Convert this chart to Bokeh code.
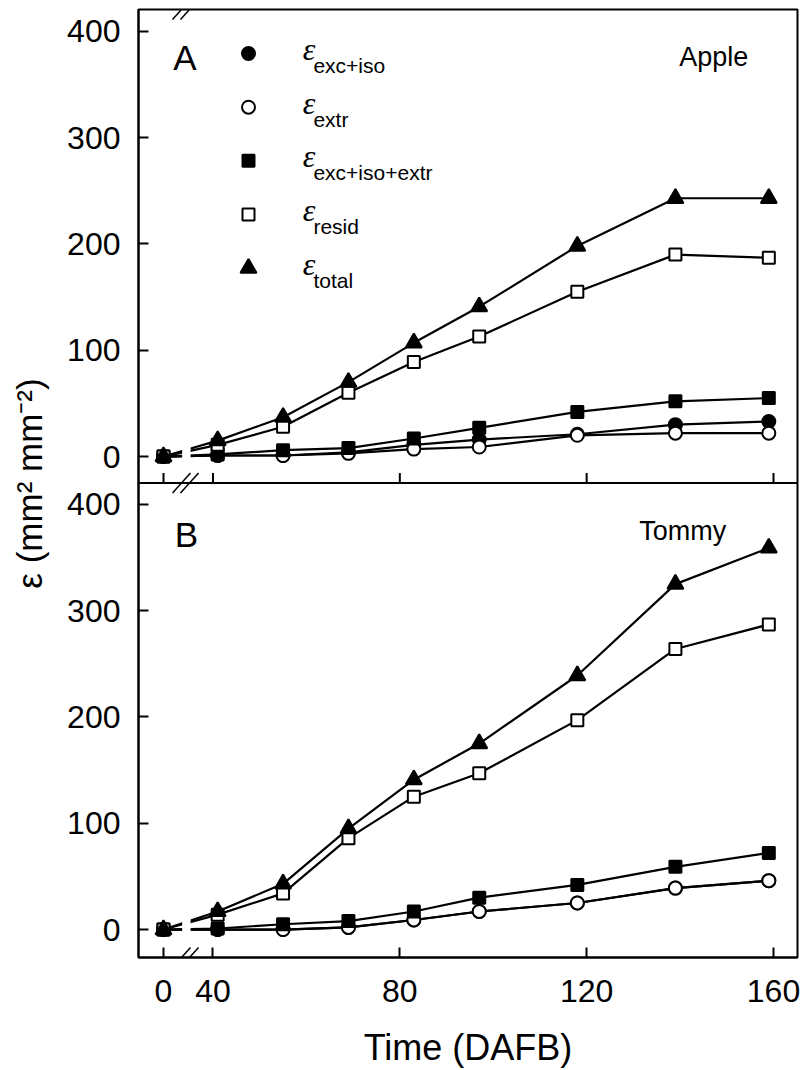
from bokeh.plotting import figure
from bokeh.models import Range1d, FixedTicker, Span, Arrow, ColumnDataSource
from bokeh.core.properties import value
from bokeh.embed import file_html
from bokeh.resources import INLINE

# days after full bloom; day 0 sits left of the axis break
days = [0, 41, 55, 69, 83, 97, 118, 139, 159]

# panel A - Apple
apple_exc_iso = [0, 1, 1, 4, 11, 16, 21, 30, 33]
apple_extr = [0, 1, 1, 3, 7, 9, 20, 22, 22]
apple_exc_iso_extr = [0, 2, 6, 8, 17, 27, 42, 52, 55]
apple_resid = [0, 11, 28, 60, 89, 113, 155, 190, 187]
apple_total = [0, 15, 37, 70, 107, 141, 198, 243, 243]

# panel B - Tommy
tommy_exc_iso = [0, 0, 0, 2, 9, 17, 25, 39, 46]
tommy_extr = [0, 0, 0, 2, 9, 17, 25, 39, 46]
tommy_exc_iso_extr = [0, 1, 5, 8, 17, 30, 42, 59, 72]
tommy_resid = [0, 14, 34, 86, 125, 147, 197, 264, 287]
tommy_total = [0, 17, 43, 95, 141, 175, 239, 325, 359]

series_subs = ["exc+iso", "extr", "exc+iso+extr", "resid", "total"]
series_markers = ["circle", "circle", "square", "square", "triangle"]
series_fills = ["black", "white", "black", "white", "black"]
marker_sizes = [13, 13, 12, 12, 16]

x_ticks = [0, 40, 80, 120, 160]
y_ticks = [0, 100, 200, 300, 400]

ZERO_AT = 29.4   # plot position of day 0 (broken axis)
OFFSET = 445     # panel A is stacked above panel B on one y scale
SEP = 420.1      # boundary line between the two panels
TOP = 865.6
BOTTOM = -26.3


def xpos(d):
    return ZERO_AT if d == 0 else d


p = figure(width=800, height=1070,
           x_range=Range1d(24.05, 165.14), y_range=Range1d(BOTTOM, TOP),
           output_backend="svg", toolbar_location=None,
           min_border_left=138, min_border_right=3,
           min_border_top=9, min_border_bottom=112)
p.xgrid.visible = False
p.ygrid.visible = False
p.outline_line_color = "black"
p.outline_line_width = 2
p.background_fill_color = "white"

xt = [xpos(t) for t in x_ticks]
p.xaxis.ticker = FixedTicker(ticks=xt)
p.xaxis.major_label_overrides = {ZERO_AT: "0"}
p.yaxis.ticker = FixedTicker(ticks=y_ticks + [t + OFFSET for t in y_ticks])
p.yaxis.major_label_overrides = {t + OFFSET: str(t) for t in y_ticks}

for ax in (p.xaxis[0], p.yaxis[0]):
    ax.axis_line_width = 2
    ax.major_tick_line_width = 2
    ax.major_tick_in = 10
    ax.major_tick_out = 0
    ax.minor_tick_line_color = None
    ax.major_label_text_font = "Liberation Sans"
    ax.major_label_text_font_size = "32px"
    ax.major_label_text_color = "black"
    ax.axis_label_text_font = "Liberation Sans"
    ax.axis_label_text_font_style = "normal"
    ax.axis_label_text_color = "black"

p.xaxis.axis_label = "Time (DAFB)"
p.xaxis.axis_label_text_font_size = "36px"
p.xaxis.major_label_standoff = 22
p.xaxis.axis_label_standoff = 22
p.yaxis.axis_label = "ε (mm² mm⁻²)"
p.yaxis.axis_label_text_font_size = "35px"
p.yaxis.major_label_standoff = 18
p.yaxis.axis_label_standoff = 15

# separator between the panels, with panel A's own x ticks
p.add_layout(Span(location=SEP, dimension="width", line_color="black", line_width=2))
p.segment(x0=xt, y0=SEP, x1=xt, y1=SEP + 9.4, line_color="black", line_width=2)

panels = [
    (OFFSET, [apple_exc_iso, apple_extr, apple_exc_iso_extr, apple_resid, apple_total]),
    (0, [tommy_exc_iso, tommy_extr, tommy_exc_iso_extr, tommy_resid, tommy_total]),
]
xs = [xpos(d) for d in days]

for off, series in panels:
    for vals in series:
        p.line(xs, [v + off for v in vals], line_color="black", line_width=2.2)
    # gap in the lines at the axis break
    p.quad(left=33.4, right=35.2, bottom=off - 12, top=off + 30,
           fill_color="white", line_color=None)
    for vals, mk, fc, sz in zip(series, series_markers, series_fills, marker_sizes):
        p.scatter(xs, [v + off for v in vals], marker=mk, size=sz,
                  fill_color=fc, line_color="black", line_width=2)

# break marks on the top, middle and bottom x lines
bx0, by0, bx1, by1 = [], [], [], []
for cy in (TOP, SEP, BOTTOM):
    for x0, x1 in ((31.33, 35.18), (33.04, 36.90)):
        bx0.append(x0)
        by0.append(cy - 9.4)
        bx1.append(x1)
        by1.append(cy + 9.4)
brk = ColumnDataSource(dict(x0=bx0, y0=by0, x1=bx1, y1=by1))
p.add_layout(Arrow(end=None, source=brk, x_start="x0", y_start="y0",
                   x_end="x1", y_end="y1", line_color="black", line_width=1.5))

# legend (panel A)
leg_y = [379.2 - 50.5 * i + OFFSET for i in range(len(series_subs))]
for i, (mk, fc, sz) in enumerate(zip(series_markers, series_fills, marker_sizes)):
    p.scatter([47.6], [leg_y[i]], marker=mk, size=sz,
              fill_color=fc, line_color="black", line_width=2)
p.text(x=[59.2] * len(leg_y), y=[v + 4.2 for v in leg_y], text=["ε"] * len(leg_y),
       text_font=value("Liberation Serif"), text_font_style="italic",
       text_font_size="32px", text_baseline="middle", text_align="left")
p.text(x=[61.5] * len(leg_y), y=[v - 11.3 for v in leg_y], text=series_subs,
       text_font=value("Liberation Sans"), text_font_size="21px",
       text_baseline="middle", text_align="left")

# panel letters and cultivar names
p.text(x=[31.5, 31.8], y=[375.0 + OFFSET, 371.2], text=["A", "B"],
       text_font=value("Liberation Sans"), text_font_size="35px",
       text_baseline="middle", text_align="left")
p.text(x=[154.6, 149.9], y=[375.5 + OFFSET, 375.0], text=["Apple", "Tommy"],
       text_font=value("Liberation Sans"), text_font_size="27px",
       text_baseline="middle", text_align="right")

open("out.html", "w").write(file_html(p, INLINE))
